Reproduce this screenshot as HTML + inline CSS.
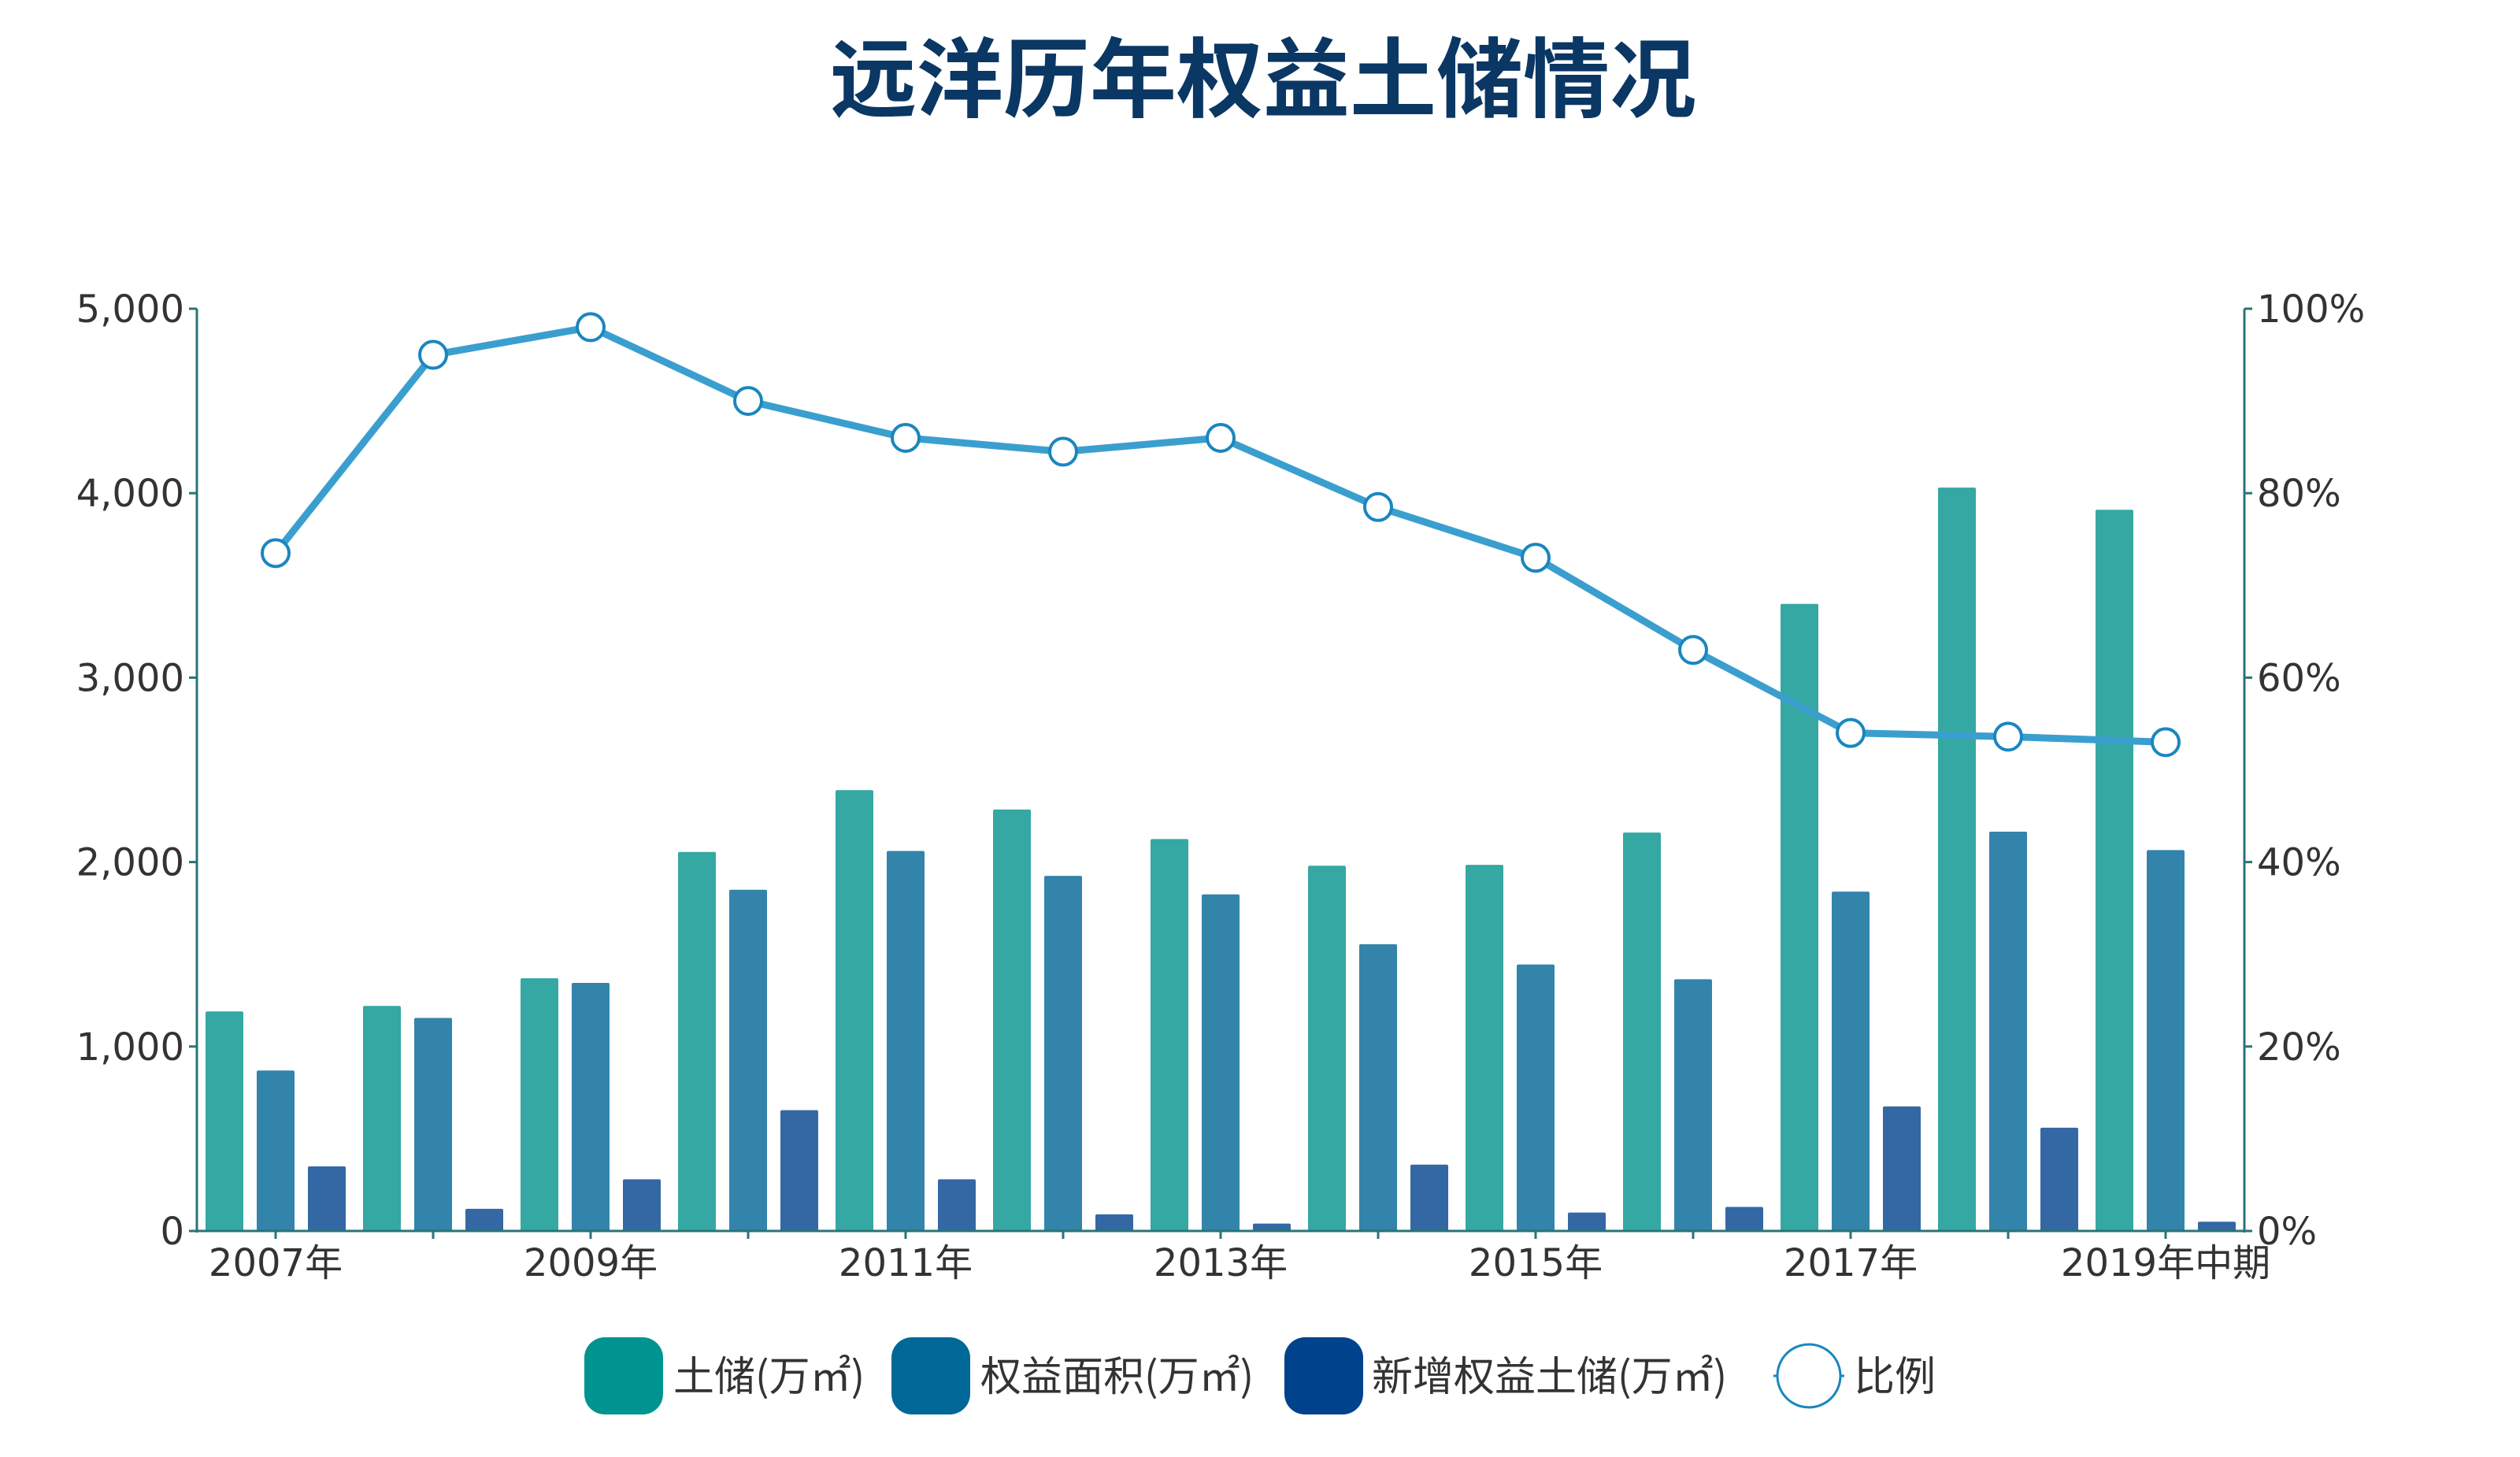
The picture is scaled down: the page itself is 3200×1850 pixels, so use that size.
<!DOCTYPE html>
<html><head><meta charset="utf-8"><style>
html,body{margin:0;padding:0;background:#fff;}
svg{display:block;}
text{font-family:"DejaVu Sans","Noto Sans CJK SC",sans-serif;}
</style></head><body>
<svg width="3200" height="1850" viewBox="0 0 3200 1850" xmlns="http://www.w3.org/2000/svg">
<rect width="3200" height="1850" fill="#fff"/>
<text x="1604" y="140" text-anchor="middle" font-size="110" font-weight="bold" fill="#0a3764" style="font-family:'Noto Sans CJK SC',sans-serif">远洋历年权益土储情况</text>
<g id="plot"></g>
</svg>
<script>
const ns="http://www.w3.org/2000/svg";
const g=document.getElementById("plot");
function el(t,a,txt){const e=document.createElementNS(ns,t);for(const k in a)e.setAttribute(k,a[k]);if(txt!==undefined)e.textContent=txt;g.appendChild(e);return e;}
const X0=250,X1=2850,Y0=1563,YT=392,H=Y0-YT;
const d=[[1190,870,350],[1220,1155,120],[1370,1345,280],[2055,1850,655],[2390,2060,280],[2285,1925,90],[2125,1825,40],[1980,1555,360],[1985,1445,100],[2160,1365,130],[3400,1840,675],[4030,2165,560],[3910,2065,50]];
const p=[73.5,95,98,90,86,84.5,86,78.5,73,63,54,53.6,53];
const cols=["#35a8a3","#3384ab","#3368a4"];
const offs=[11,76,141];
d.forEach((r,i)=>{r.forEach((v,j)=>{const h=v/5000*H;el("rect",{x:X0+i*200+offs[j],y:Y0-h,width:48,height:h,rx:2,fill:cols[j]});});});
el("line",{x1:X0,y1:YT,x2:X0,y2:Y0+2,stroke:"#2a7377","stroke-width":3});
el("line",{x1:X1,y1:YT,x2:X1,y2:Y0+2,stroke:"#2a7377","stroke-width":3});
el("line",{x1:X0,y1:Y0,x2:X1,y2:Y0,stroke:"#2a7377","stroke-width":3});
for(let k=0;k<=5;k++){const y=Y0-k*H/5;
el("line",{x1:X0-10,y1:y,x2:X0,y2:y,stroke:"#2a7377","stroke-width":3});
el("line",{x1:X1,y1:y,x2:X1+10,y2:y,stroke:"#2a7377","stroke-width":3});
el("text",{x:234,y:y+17,"text-anchor":"end","font-size":48,fill:"#333"},k==0?"0":(k+",000"));
el("text",{x:2866,y:y+17,"font-size":48,fill:"#333"},(k*20)+"%");}
const lab={0:"2007年",2:"2009年",4:"2011年",6:"2013年",8:"2015年",10:"2017年",12:"2019年中期"};
for(let i=0;i<13;i++){const x=X0+i*200+100;
el("line",{x1:x,y1:Y0,x2:x,y2:Y0+10,stroke:"#2a7377","stroke-width":3});
if(lab[i])el("text",{x:x,y:1620,"text-anchor":"middle","font-size":48,fill:"#333"},lab[i]);}
const pts=p.map((v,i)=>[X0+i*200+100,YT+(100-v)/100*H]);
el("polyline",{points:pts.map(q=>q.join(",")).join(" "),fill:"none",stroke:"#3a9fcf","stroke-width":9,"stroke-linejoin":"round"});
pts.forEach(q=>el("circle",{cx:q[0],cy:q[1],r:17,fill:"#fff",stroke:"#1a86c0","stroke-width":4}));
const lg=[[742,"#009490","土储(万㎡)",855],[1132,"#006896","权益面积(万㎡)",1245],[1631,"#00428c","新增权益土储(万㎡)",1742]];
lg.forEach(l=>{el("rect",{x:l[0],y:1698,width:100,height:98,rx:26,fill:l[1]});
el("text",{x:l[3],y:1766,"font-size":52,fill:"#333",style:"font-family:'Noto Sans CJK SC',sans-serif"},l[2]);});
el("line",{x1:2252,y1:1747,x2:2342,y2:1747,stroke:"#1a86c0","stroke-width":3});
el("circle",{cx:2297,cy:1747,r:40,fill:"#fff",stroke:"#1a86c0","stroke-width":3});
el("text",{x:2354,y:1766,"font-size":52,fill:"#333",style:"font-family:'Noto Sans CJK SC',sans-serif"},"比例");
</script>
</body></html>
